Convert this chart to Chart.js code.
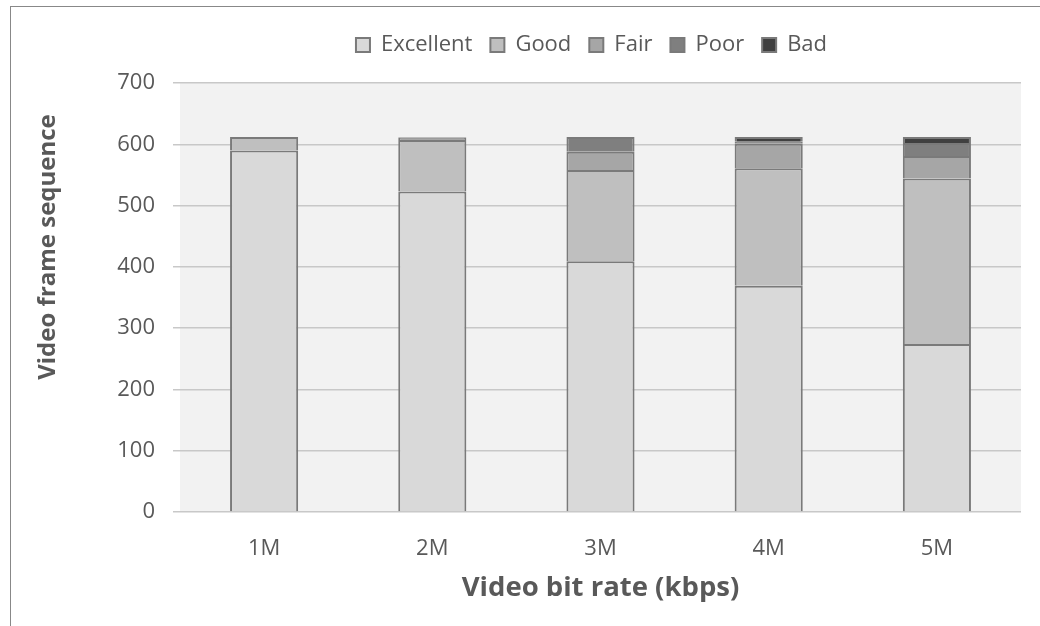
<!DOCTYPE html>
<html>
<head>
<meta charset="utf-8">
<script src="https://cdn.jsdelivr.net/npm/chart.js@4"></script>
<style>
  html, body { margin: 0; padding: 0; background: #fff; overflow: hidden; }
  #frame { position: absolute; left: 10px; top: 6px; width: 1100px; height: 700px;
           border: 1px solid #888; box-sizing: border-box; }
  #wrap { position: absolute; left: 0; top: 0; width: 1040px; height: 626px; }
</style>
</head>
<body>
<div id="frame"></div>
<div id="wrap"><canvas id="c"></canvas></div>
<script>
// bit rates on the x axis
var rates = ['1M', '2M', '3M', '4M', '5M'];

// number of frames per quality class
var excellent = [590, 523, 409, 369, 274];
var good      = [22, 84, 149, 192, 270];
var fair      = [0, 4, 30, 40, 37];
var poor      = [0, 1, 24, 3, 21];
var bad       = [0, 0, 0, 8, 10];

var yTicks = [0, 100, 200, 300, 400, 500, 600, 700];

var txt = '#595959';
var font = '"Open Sans", sans-serif';

function ds(label, data, color) {
    return {
        label: label, data: data,
        backgroundColor: color, borderColor: '#7a7a7a', borderWidth: 2,
        categoryPercentage: 1, barPercentage: 0.405
    };
}

// light grey fill behind the plot
var plotBg = {
    id: 'plotBg',
    beforeDraw: function(chart) {
        var a = chart.chartArea, ctx = chart.ctx;
        ctx.save();
        ctx.fillStyle = '#f2f2f2';
        ctx.fillRect(a.left, a.top, a.right - a.left, a.bottom - a.top);
        ctx.restore();
    }
};

// y title sits a bit above the middle of the plot
var yTitle = {
    id: 'yTitle',
    afterDraw: function(chart) {
        var ctx = chart.ctx;
        ctx.save();
        ctx.translate(48, 247);
        ctx.rotate(-Math.PI / 2);
        ctx.fillStyle = txt;
        ctx.font = 'bold 24px ' + font;
        ctx.textAlign = 'center';
        ctx.textBaseline = 'middle';
        ctx.fillText('Video frame sequence', 0, 0);
        ctx.restore();
    }
};

// more room under the legend, and legend centred over the plot
var legendBox = {
    id: 'legendBox',
    beforeInit: function(chart) {
        var lg = chart.legend, fit = lg.fit;
        lg.fit = function() { fit.call(lg); lg.height += 17; };
    },
    afterLayout: function(chart) {
        chart.legend.left += 71;
        chart.legend.right += 71;
    }
};

new Chart(document.getElementById('c'), {
    type: 'bar',
    data: {
        labels: rates,
        datasets: [
            ds('Excellent', excellent, '#d9d9d9'),
            ds('Good', good, '#bfbfbf'),
            ds('Fair', fair, '#a6a6a6'),
            ds('Poor', poor, '#7f7f7f'),
            ds('Bad', bad, '#404040')
        ]
    },
    plugins: [plotBg, yTitle, legendBox],
    options: {
        responsive: true, maintainAspectRatio: false, animation: false,
        layout: { padding: { left: 20, right: 19, top: 16, bottom: 21 } },
        plugins: {
            tooltip: { enabled: false },
            legend: {
                position: 'top',
                labels: {
                    color: txt, font: { family: font, size: 22 },
                    boxWidth: 14, boxHeight: 14, padding: 18
                }
            }
        },
        scales: {
            x: {
                stacked: true,
                afterFit: function(axis) { axis.height = 93; },
                grid: { display: false, drawTicks: false },
                border: { display: false },
                ticks: { color: txt, font: { family: font, size: 22 }, padding: 24 },
                title: { display: true, text: 'Video bit rate (kbps)', color: txt,
                         font: { family: font, size: 27.5, weight: 'bold' }, padding: 0 }
            },
            y: {
                stacked: true, min: 0, max: 700,
                afterBuildTicks: function(axis) {
                    axis.ticks = yTicks.map(function(v) { return { value: v }; });
                },
                afterFit: function(axis) { axis.width = 160; },
                grid: { color: '#c8c8c8', lineWidth: 1.5, tickLength: 7 },
                border: { display: false },
                ticks: { color: txt, font: { family: font, size: 22 }, padding: 18 }
            }
        }
    }
});
</script>
</body>
</html>
